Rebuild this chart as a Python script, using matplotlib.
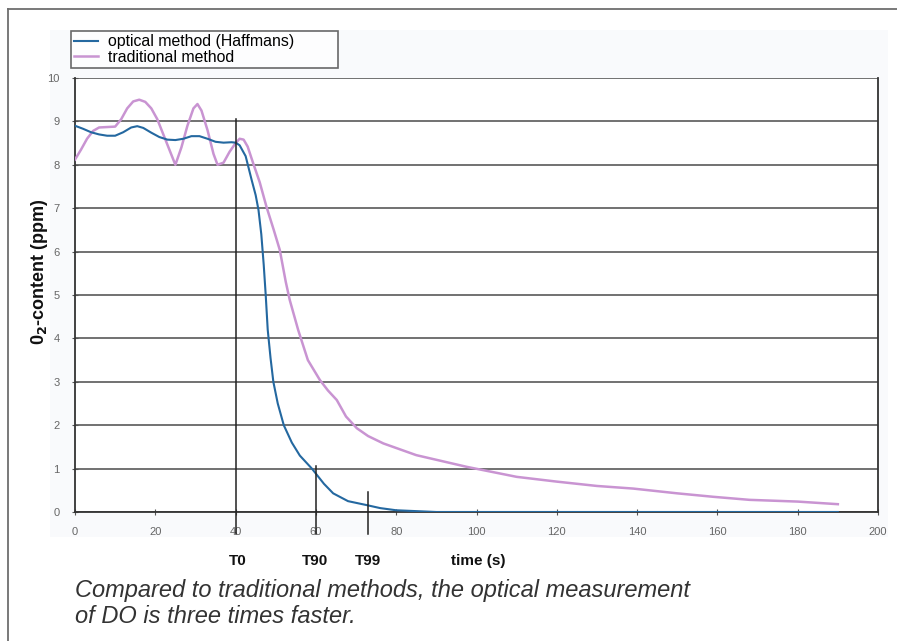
import matplotlib
matplotlib.use("Agg")
import matplotlib.pyplot as plt
from matplotlib.lines import Line2D
from matplotlib.patches import Rectangle

plt.rcParams['font.family'] = ['Liberation Sans', 'DejaVu Sans']

# data
opt_t = [0, 2, 4, 6, 8, 10, 12, 14, 15.5, 17, 19, 21, 23, 25, 27, 29, 31, 33, 35, 37,
         39, 40, 41, 42.5, 44, 45, 45.7, 46.4, 47, 47.5, 48, 48.7, 49.4, 50.5, 52, 54,
         56, 59, 62, 64.3, 68, 72.6, 76, 80, 85, 90, 100, 120, 140, 160, 180, 190]
opt_o2 = [8.9, 8.83, 8.75, 8.7, 8.67, 8.67, 8.75, 8.86, 8.89, 8.85, 8.74, 8.64, 8.58,
          8.57, 8.6, 8.66, 8.66, 8.6, 8.53, 8.51, 8.52, 8.51, 8.45, 8.2, 7.65, 7.3, 6.96,
          6.4, 5.7, 5.0, 4.2, 3.55, 3.0, 2.5, 2.0, 1.6, 1.3, 1.0, 0.65, 0.43, 0.25, 0.16,
          0.09, 0.04, 0.02, 0.0, 0.0, 0.0, 0.0, 0.0, 0.0, 0.0]

trad_t = [0, 1.5, 3, 4.5, 6, 8, 10, 11.5, 13, 14.5, 16, 17.5, 19, 20.5, 22, 23.5, 25,
          26.5, 28, 29.5, 30.5, 31.5, 33, 34.5, 35.5, 37, 38.5, 40, 41, 42, 43, 44.4,
          46, 47.7, 49.5, 51, 52.5, 53.5, 55.6, 58, 61, 63, 65.2, 67.5, 70.2, 73, 76.8,
          85, 97.6, 110, 120, 130, 139, 150, 159, 168, 180, 190]
trad_o2 = [8.12, 8.35, 8.6, 8.78, 8.86, 8.87, 8.88, 9.05, 9.3, 9.46, 9.5, 9.45, 9.3,
           9.05, 8.7, 8.35, 8.0, 8.4, 8.9, 9.3, 9.4, 9.25, 8.8, 8.25, 8.0, 8.05, 8.3, 8.5,
           8.6, 8.58, 8.42, 8.03, 7.6, 7.03, 6.5, 6.04, 5.3, 4.88, 4.19, 3.5, 3.04, 2.8,
           2.58, 2.2, 1.93, 1.75, 1.58, 1.31, 1.04, 0.81, 0.7, 0.6, 0.54, 0.43, 0.35,
           0.28, 0.24, 0.18]

markers = ["T0", "T90", "T99"]
marker_t = [40, 60, 73]
marker_top = [9.05, 1.05, 0.45]
marker_lab_t = [40.5, 59.8, 73]

xticks = list(range(0, 201, 20))
yticks = list(range(0, 11))

fig = plt.figure(figsize=(8.97, 6.41), dpi=100)
fig.patch.set_facecolor("white")

# faint panel behind the chart
fig.patches.append(Rectangle((50 / 897, 1 - 537 / 641), 838 / 897, 507 / 641,
                             transform=fig.transFigure, facecolor="#f9fafc",
                             edgecolor="none", zorder=-1))
# outer frame lines (top and left)
fig.add_artist(Line2D([8 / 897, 1], [1 - 9 / 641, 1 - 9 / 641], color="#6e6e6e", lw=1.3))
fig.add_artist(Line2D([8 / 897, 8 / 897], [0, 1 - 9 / 641], color="#6e6e6e", lw=1.3))

ax = fig.add_axes([75 / 897, 1 - 512 / 641, 803 / 897, 434 / 641])
ax.set_zorder(2)
ax.set_facecolor("white")
ax.set_xlim(0, 200)
ax.set_ylim(0, 10)
ax.set_xticks(xticks)
ax.set_yticks(yticks)
ax.grid(axis="y", color="#4a4a4a", lw=1.1)
ax.set_axisbelow(True)
for s in ["left", "bottom", "right"]:
    ax.spines[s].set_color("#333333")
    ax.spines[s].set_linewidth(1.3)
ax.spines["top"].set_visible(False)
ax.tick_params(direction="inout", length=4, width=0.8, colors="#555555",
               labelsize=8, pad=9)
for lbl in ax.get_xticklabels() + ax.get_yticklabels():
    lbl.set_color("#666666")

ax.plot(trad_t, trad_o2, color="#c994d2", lw=1.8, label="traditional method", zorder=3)
ax.plot(opt_t, opt_o2, color="#2468a0", lw=1.5, label="optical method (Haffmans)", zorder=4)

for t, top in zip(marker_t, marker_top):
    ax.plot([t, t], [-0.5, top], color="#222222", lw=1.1, clip_on=False, zorder=5)

for lab, t in zip(markers, marker_lab_t):
    ax.text(t, -1.12, lab, ha="center", va="center", fontsize=11, fontweight="bold",
            color="#111111")
ax.text(100.4, -1.12, "time (s)", ha="center", va="center", fontsize=11,
        fontweight="bold", color="#111111")

fig.text(39 / 897, 1 - 272 / 641, "0$_\\mathbf{2}$-content (ppm)", rotation=90,
         ha="center", va="center", fontsize=13, fontweight="bold", color="#111111")

h, l = ax.get_legend_handles_labels()
leg = fig.legend(h[::-1], l[::-1], loc="upper left",
                 bbox_to_anchor=(71 / 897, 1 - 69 / 641, 267 / 897, 38 / 641),
                 mode="expand", fontsize=11.4,
                 frameon=True, fancybox=False, edgecolor="#444444",
                 borderpad=0.2, labelspacing=0.05, handlelength=1.5,
                 handletextpad=0.65, borderaxespad=0)
leg.get_frame().set_linewidth(1.2)
leg.get_frame().set_facecolor("white")

fig.text(75 / 897, 1 - 597 / 641, "Compared to traditional methods, the optical measurement",
         ha="left", va="baseline", fontsize=17, style="italic", color="#333333")
fig.text(75 / 897, 1 - 623 / 641, "of DO is three times faster.",
         ha="left", va="baseline", fontsize=17, style="italic", color="#333333")

fig.savefig("out.png", dpi=100)
